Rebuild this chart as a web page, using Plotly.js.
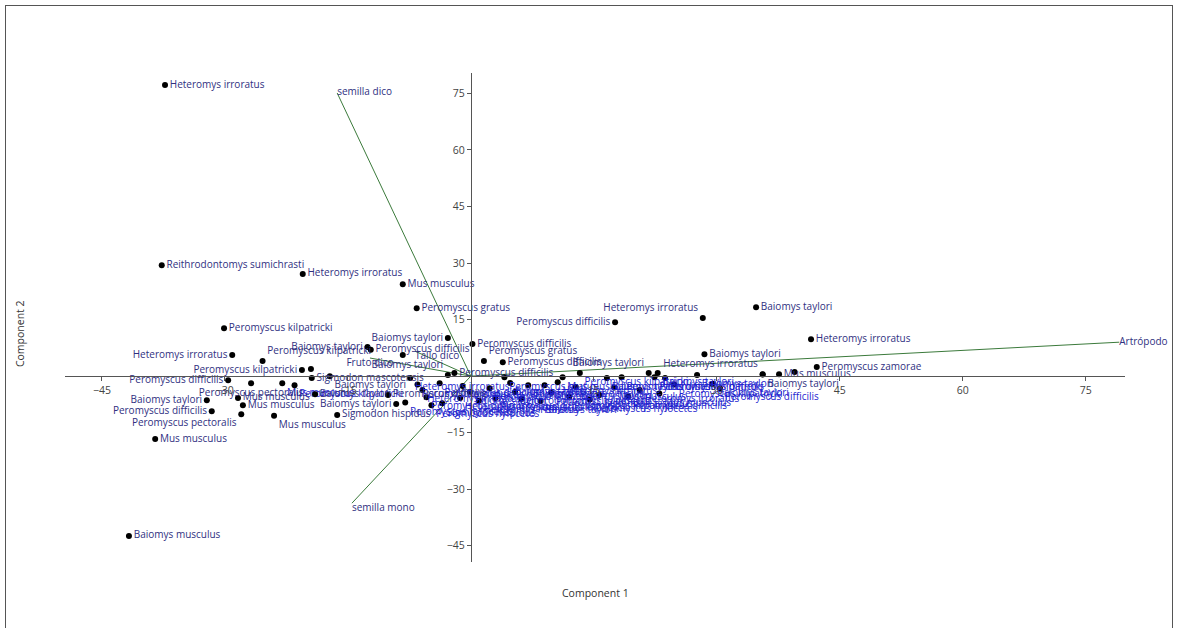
<!DOCTYPE html>
<html>
<head>
<meta charset="utf-8">
<script src="https://cdn.plot.ly/plotly-3.0.1.min.js"></script>
<style>
  html, body { margin: 0; padding: 0; background: #fff; }
  #chart { position: absolute; left: 0; top: 0; width: 1177px; height: 628px; }
  #frame { position: absolute; left: 5px; top: 5px; width: 1166px; height: 640px;
           border: 1px solid #555; pointer-events: none; }
</style>
</head>
<body>
<div id="chart"></div>
<div id="frame"></div>
<script>
// PCA scores (Component 1, Component 2) of individual captures, labelled by species
const outerPC1 = [-37.3, -37.7, -20.5, -8.3, -6.6, -30.1, -12.6, -12.2, -2.8, -8.3,
                  -29.1, -25.4, -20.6, -19.5, -29.6, -32.2, -31.6, -28.0, -38.5, -41.7,
                  -26.8, -28.4, -27.8, -24.0, -19.4, -17.2, -19.0, -10.1, -9.1, -16.3,
                  -2.8, -2.0, 0.2, 1.6, 3.9, 17.6, 28.3, 34.8, 41.5, 28.5,
                  21.7, 35.6, 35.6, 37.6, 39.5, 42.2];
const outerPC2 = [77.2, 29.4, 27.1, 24.4, 18.0, 12.7, 7.7, 7.0, 10.1, 5.6,
                  5.6, 4.0, 1.6, 1.9, -1.1, -6.4, -9.3, -10.1, -16.7, -42.4,
                  -1.9, -5.8, -7.7, -10.5, -0.5, 0.0, -4.8, -5.0, -7.4, -10.3,
                  0.3, 0.8, 8.5, 4.0, 3.7, 14.3, 15.4, 18.3, 9.8, 5.8,
                  0.8, 0.5, 0.4, 0.5, 1.1, 2.4];
const outerSpecies = ["Heteromys irroratus", "Reithrodontomys sumichrasti", "Heteromys irroratus", "Mus musculus", "Peromyscus gratus",
                      "Peromyscus kilpatricki", "Baiomys taylori", "Peromyscus difficilis", "Baiomys taylori", "",
                      "Heteromys irroratus", "Peromyscus kilpatricki", "Peromyscus kilpatricki", "", "Peromyscus difficilis",
                      "Baiomys taylori", "Peromyscus difficilis", "Peromyscus pectoralis", "Mus musculus", "Baiomys musculus",
                      "Peromyscus pectoralis", "Mus musculus", "Mus musculus", "Mus musculus", "Sigmodon mascotensis",
                      "Baiomys taylori", "Baiomys taylori", "Peromyscus difficilis", "Baiomys taylori", "Sigmodon hispidus",
                      "Baiomys taylori", "Peromyscus difficilis", "Peromyscus difficilis", "Peromyscus gratus", "Peromyscus difficilis",
                      "Peromyscus difficilis", "Heteromys irroratus", "Baiomys taylori", "Heteromys irroratus", "Baiomys taylori",
                      "Baiomys taylori", "Heteromys irroratus", "Baiomys taylori", "Mus musculus", "", "Peromyscus zamorae"];
const outerLabelSide = ["middle right", "middle right", "middle right", "middle right", "middle right",
                        "middle right", "middle left", "middle right", "middle left", "middle right",
                        "middle left", "top right", "middle left", "middle right", "middle left",
                        "middle left", "middle left", "bottom left", "middle right", "middle right",
                        "bottom center", "middle right", "middle right", "bottom right", "middle right",
                        "bottom right", "middle right", "middle right", "middle left", "middle right",
                        "top left", "middle right", "middle right", "top right", "middle right",
                        "middle left", "top left", "middle right", "middle right", "middle right",
                        "top left", "top left", "bottom right", "middle right", "middle right", "middle right"];

// Densely packed scores near the origin
const clusterPC1 = [-5.9, -5.4, -4.8, -3.8, -1.3, -0.1, 2.3, 4.1, 5.4, 7.0,
                    9.0, 10.6, 11.2, 13.3, 15.7, 16.6, 18.4, 20.6, 22.4, 22.8,
                    23.7, 27.6, 23.0, 30.4, 29.5, -8.0, -3.5, 8.5, 12.0, 3.0,
                    -23.0, -21.5, -7.4, -1.0, 1.0, 4.8, 6.2, 9.8, 12.8, 14.5,
                    17.5, 19.2, 24.8, -6.5];
const clusterPC2 = [-3.7, -5.6, -7.7, -1.9, -5.8, -4.2, -3.2, -0.3, -4.2, -2.4,
                    -2.4, -1.6, -0.3, 0.8, -5.0, -0.5, -0.3, -3.7, -0.3, 0.8,
                    -0.5, 0.3, -4.6, -3.2, -2.0, -7.0, -7.2, -6.6, -5.5, -5.8,
                    -1.9, -2.4, -0.5, -2.6, -6.5, -1.8, -6.0, -4.4, -2.9, -6.2,
                    -3.0, -5.4, -2.2, -2.2];
const clusterSpecies = ["Heteromys irroratus", "Peromyscus difficilis", "Peromyscus hylocetes", "Peromyscus difficilis", "Heteromys irroratus",
                        "Baiomys taylori", "Peromyscus kilpatricki", "Peromyscus gratus", "Reithrodontomys fulvescens", "Baiomys taylori",
                        "Peromyscus difficilis", "Heteromys irroratus", "Mus musculus", "Peromyscus kilpatricki", "Sigmodon hispidus",
                        "Baiomys taylori", "Peromyscus difficilis", "Heteromys irroratus", "Peromyscus kilpatricki", "Baiomys taylori",
                        "Peromyscus difficilis", "Baiomys taylori", "Mus musculus", "Peromyscus difficilis", "Baiomys taylori",
                        "Peromyscus hylocetes", "Sigmodon hispidus", "Baiomys taylori", "Peromyscus kilpatricki", "Peromyscus difficilis",
                        "Mus musculus", "Peromyscus kilpatricki", "Heteromys irroratus", "Peromyscus difficilis", "Heteromys irroratus",
                        "Baiomys taylori", "Peromyscus kilpatricki", "Peromyscus difficilis", "Baiomys taylori", "Peromyscus hylocetes",
                        "Mus musculus", "Peromyscus difficilis", "Peromyscus kilpatricki", "Peromyscus gratus"];

// Variable loadings drawn as biplot vectors
const vectorNames = ["semilla dico", "Artrópodo", "semilla mono", "Fruto dico", "Tallo dico"];
const vectorPC1 = [-16.3, 79.1, -14.5, -12.3, -6.8];
const vectorPC2 = [75.1, 9.0, -33.7, 4.8, 6.6];
const vectorLabelSide = ["middle right", "middle right", "bottom right", "bottom center", "bottom right"];

// Tick values on both axes (origin left unlabelled)
const tickValues = [-45, -30, -15, 15, 30, 45, 60, 75];

const labelFont = { family: "Open Sans, sans-serif", size: 10, color: "#30307f" };

const traces = [];

vectorNames.forEach((name, i) => {
  traces.push({
    type: "scatter",
    mode: "lines+text",
    x: [0, vectorPC1[i]],
    y: [0, vectorPC2[i]],
    text: ["", name],
    textposition: vectorLabelSide[i],
    textfont: labelFont,
    line: { color: "#3b7a3b", width: 1 },
    cliponaxis: false,
    hoverinfo: "skip",
    showlegend: false
  });
});

traces.push({
  type: "scatter",
  mode: "markers+text",
  x: clusterPC1,
  y: clusterPC2,
  text: clusterSpecies,
  textposition: "bottom right",
  textfont: { family: "Open Sans, sans-serif", size: 10, color: "#1f1fcf" },
  marker: { color: "#000", size: 6 },
  cliponaxis: false,
  showlegend: false
});

traces.push({
  type: "scatter",
  mode: "markers+text",
  x: outerPC1,
  y: outerPC2,
  text: outerSpecies,
  textposition: outerLabelSide,
  textfont: labelFont,
  marker: { color: "#000", size: 6 },
  cliponaxis: false,
  showlegend: false
});

const axisCommon = {
  showgrid: false,
  zeroline: false,
  showline: true,
  linecolor: "#555",
  linewidth: 1,
  ticks: "outside",
  ticklen: 4,
  tickcolor: "#555",
  tickmode: "array",
  tickvals: tickValues,
  tickfont: { family: "Open Sans, sans-serif", size: 10.5, color: "#444" },
  anchor: "free"
};

const layout = {
  width: 1177,
  height: 628,
  margin: { l: 65, r: 52, t: 73, b: 66 },
  paper_bgcolor: "rgba(0,0,0,0)",
  plot_bgcolor: "rgba(0,0,0,0)",
  xaxis: Object.assign({}, axisCommon, { range: [-49.5, 79.8], position: 0.380 }),
  yaxis: Object.assign({}, axisCommon, { range: [-49.3, 80.4], position: 0.383 }),
  annotations: [
    { text: "Component 1", xref: "paper", yref: "paper", x: 0.5, y: -0.063,
      xanchor: "center", yanchor: "middle",
      showarrow: false, font: { family: "Open Sans, sans-serif", size: 10.5, color: "#333" } },
    { text: "Component 2", xref: "paper", yref: "paper", x: -0.0425, y: 0.468, textangle: -90,
      xanchor: "center", yanchor: "middle",
      showarrow: false, font: { family: "Open Sans, sans-serif", size: 10.5, color: "#333" } }
  ]
};

Plotly.newPlot("chart", traces, layout, { displayModeBar: false, staticPlot: true });
</script>
</body>
</html>
